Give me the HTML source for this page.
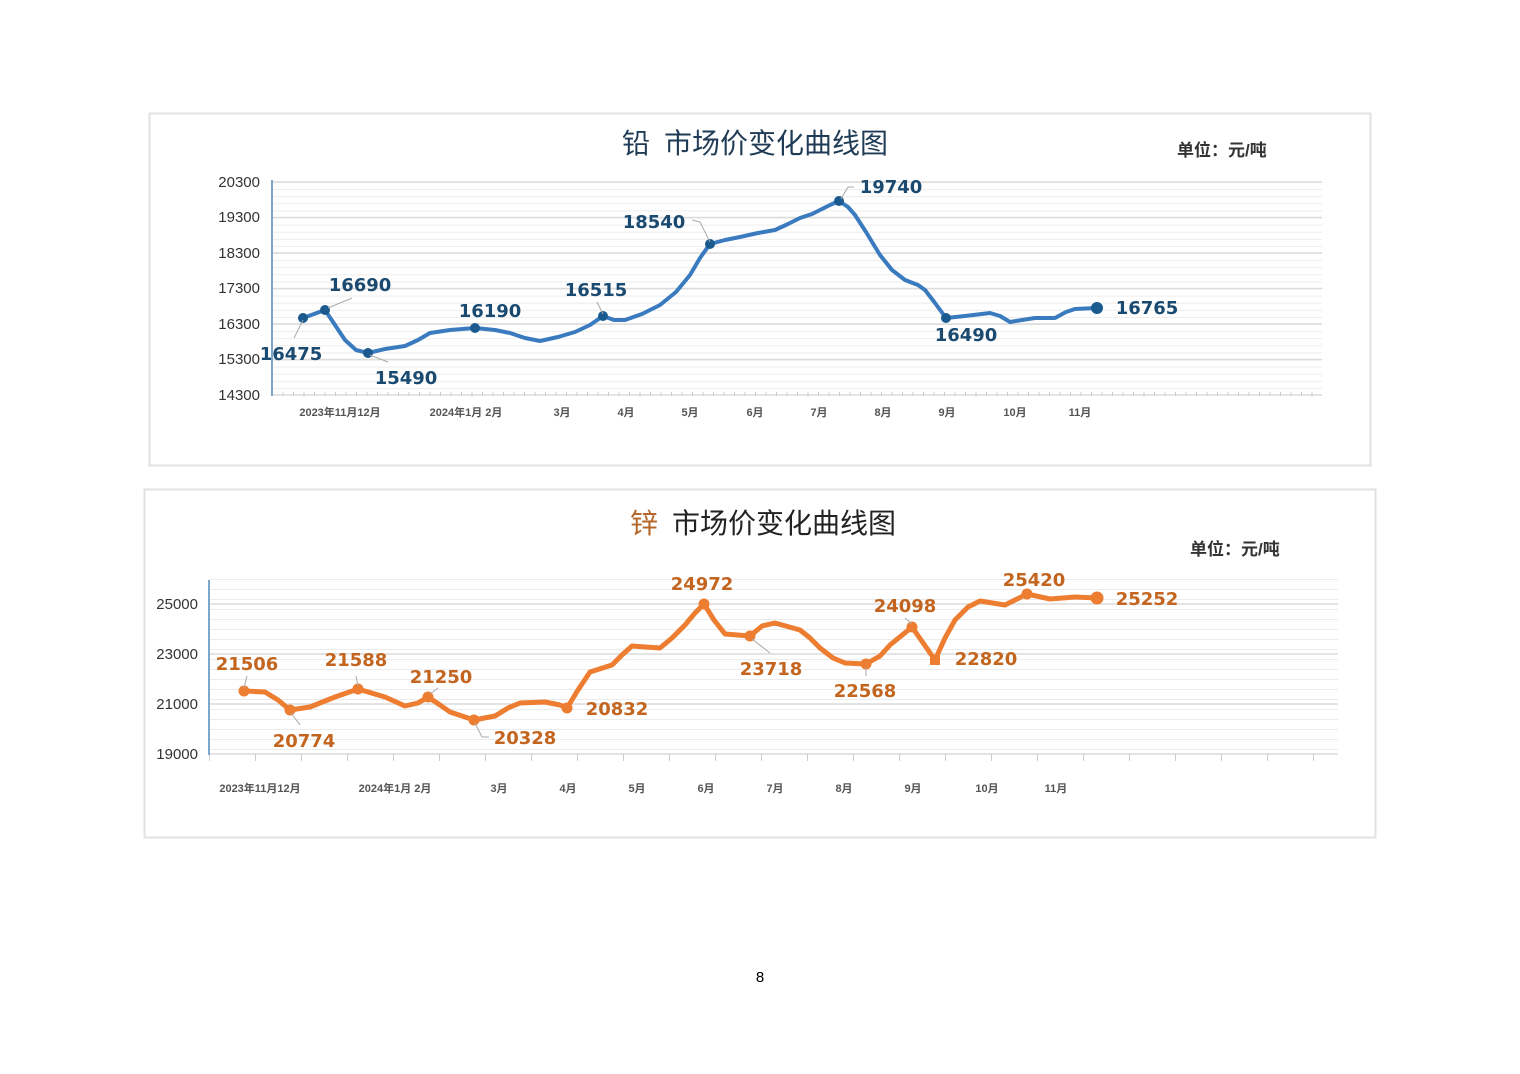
<!DOCTYPE html>
<html><head><meta charset="utf-8"><style>
html,body{margin:0;padding:0;background:#fff;}
svg{display:block;}
</style></head><body>
<svg width="1520" height="1074" viewBox="0 0 1520 1074" xmlns="http://www.w3.org/2000/svg" font-family="Liberation Sans, Noto Sans CJK SC, sans-serif">
<defs>
<pattern id="g1" x="0" y="182" width="10" height="7.1" patternUnits="userSpaceOnUse"><line x1="0" y1="0.5" x2="10" y2="0.5" stroke="#ececec" stroke-width="1"/></pattern>
<pattern id="g2" x="0" y="579" width="10" height="10" patternUnits="userSpaceOnUse"><line x1="0" y1="0.5" x2="10" y2="0.5" stroke="#ececec" stroke-width="1"/></pattern>
<pattern id="t1" x="272" y="0" width="10.5" height="10" patternUnits="userSpaceOnUse"><line x1="0.5" y1="0" x2="0.5" y2="10" stroke="#ccc" stroke-width="1"/></pattern>
<pattern id="t2" x="209" y="0" width="46" height="10" patternUnits="userSpaceOnUse"><line x1="0.5" y1="0" x2="0.5" y2="10" stroke="#ccc" stroke-width="1"/></pattern>
</defs>
<!-- Chart 1 -->
<rect x="149.5" y="113.5" width="1221" height="352" fill="#fff" stroke="#e2e2e2" stroke-width="2"/>
<text x="622" y="153" font-size="28" fill="#1f3b55">铅<tspan dx="14">市场价变化曲线图</tspan></text>
<text x="1177" y="156" font-size="17" fill="#333" font-weight="bold">单位：元/吨</text>
<rect x="272" y="182" width="1050" height="213" fill="url(#g1)"/>
<g stroke="#dcdcdc" stroke-width="1.5">
<line x1="272" y1="182" x2="1322" y2="182"/><line x1="272" y1="217.5" x2="1322" y2="217.5"/><line x1="272" y1="253" x2="1322" y2="253"/><line x1="272" y1="288.5" x2="1322" y2="288.5"/><line x1="272" y1="324" x2="1322" y2="324"/><line x1="272" y1="359.5" x2="1322" y2="359.5"/><line x1="272" y1="395" x2="1322" y2="395"/>
</g>
<rect x="272" y="392" width="1050" height="4" fill="url(#t1)"/>
<line x1="272" y1="180" x2="272" y2="396" stroke="#7ea6c8" stroke-width="2"/>
<g font-size="15" fill="#333" text-anchor="end">
<text x="260" y="187">20300</text><text x="260" y="222">19300</text><text x="260" y="258">18300</text><text x="260" y="293">17300</text><text x="260" y="329">16300</text><text x="260" y="364">15300</text><text x="260" y="400">14300</text>
</g>
<g font-size="11" font-weight="bold" fill="#555" text-anchor="middle">
<text x="340" y="416">2023年11月12月</text><text x="466" y="416">2024年1月  2月</text><text x="562" y="416">3月</text><text x="626" y="416">4月</text><text x="690" y="416">5月</text><text x="755" y="416">6月</text><text x="819" y="416">7月</text><text x="883" y="416">8月</text><text x="947" y="416">9月</text><text x="1015" y="416">10月</text><text x="1080" y="416">11月</text>
</g>
<polyline fill="none" stroke="#3a7bbf" stroke-width="4" stroke-linejoin="round" stroke-linecap="round" points="303,318 325,310 335,325 345,340 356,350 368,353 385,349 405,346 418,340 430,333 450,330 475,328 495,330 510,333 525,338 540,341 558,337 575,332 590,325 603,316 614,320 625,320 642,314 660,305 676,292 690,275 700,258 710,244 725,240 740,237 758,233 775,230 788,224 800,218 812,214 820,210 830,205 839,201 848,207 855,215 866,232 880,255 892,270 905,280 918,285 925,290 935,303 946,318 965,316 990,313 1000,316 1010,322 1022,320 1035,318 1055,318 1066,312 1075,309 1097,308"/>
<g fill="#1a5a8f"><circle cx="303" cy="318" r="5"/><circle cx="325" cy="310" r="5"/><circle cx="368" cy="353" r="5"/><circle cx="475" cy="328" r="5"/><circle cx="603" cy="316" r="5"/><circle cx="710" cy="244" r="5"/><circle cx="839" cy="201" r="5"/><circle cx="946" cy="318" r="5"/><circle cx="1097" cy="308" r="6"/></g>
<g stroke="#aaa" stroke-width="1" fill="none"><line x1="303" y1="320" x2="294" y2="338"/><line x1="328" y1="308" x2="352" y2="298"/><line x1="370" y1="355" x2="388" y2="362"/><line x1="603" y1="314" x2="597" y2="302"/><line x1="710" y1="242" x2="700" y2="222"/><line x1="692" y1="220" x2="700" y2="222"/><line x1="841" y1="199" x2="848" y2="187"/><line x1="848" y1="187" x2="854" y2="187"/></g>
<g font-family="DejaVu Sans, sans-serif" font-size="18" font-weight="bold" fill="#1b4a70" text-anchor="middle">
<text x="291" y="360">16475</text><text x="360" y="291">16690</text><text x="406" y="384">15490</text><text x="490" y="317">16190</text><text x="596" y="296">16515</text><text x="654" y="228">18540</text><text x="891" y="193">19740</text><text x="966" y="341">16490</text><text x="1147" y="314">16765</text>
</g>
<!-- Chart 2 -->
<rect x="144.5" y="489.5" width="1231" height="348" fill="#fff" stroke="#e2e2e2" stroke-width="2"/>
<text x="630" y="533" font-size="28" fill="#222"><tspan fill="#b5662a">锌</tspan><tspan dx="14">市场价变化曲线图</tspan></text>
<text x="1190" y="555" font-size="17" fill="#333" font-weight="bold">单位：元/吨</text>
<rect x="209" y="579" width="1129" height="175" fill="url(#g2)"/>
<g stroke="#dcdcdc" stroke-width="1.5">
<line x1="209" y1="604" x2="1338" y2="604"/><line x1="209" y1="654" x2="1338" y2="654"/><line x1="209" y1="704" x2="1338" y2="704"/><line x1="209" y1="754" x2="1338" y2="754"/>
</g>
<rect x="209" y="754" width="1129" height="7" fill="url(#t2)"/>
<line x1="209" y1="580" x2="209" y2="755" stroke="#7ea6c8" stroke-width="2"/>
<g font-size="15" fill="#333" text-anchor="end">
<text x="198" y="609">25000</text><text x="198" y="659">23000</text><text x="198" y="709">21000</text><text x="198" y="759">19000</text>
</g>
<g font-size="11" font-weight="bold" fill="#555" text-anchor="middle">
<text x="260" y="792">2023年11月12月</text><text x="395" y="792">2024年1月  2月</text><text x="499" y="792">3月</text><text x="568" y="792">4月</text><text x="637" y="792">5月</text><text x="706" y="792">6月</text><text x="775" y="792">7月</text><text x="844" y="792">8月</text><text x="913" y="792">9月</text><text x="987" y="792">10月</text><text x="1056" y="792">11月</text>
</g>
<polyline fill="none" stroke="#ed7d31" stroke-width="5" stroke-linejoin="round" stroke-linecap="round" points="244,691 265,692 278,700 290,710 310,707 335,697 358,689 385,697 405,706 418,703 428,697 440,705 450,712 474,720 495,716 508,708 520,703 545,702 560,705 567,708 578,690 590,672 612,665 622,655 632,646 660,648 672,638 685,625 695,613 704,604 714,620 725,634 750,636 762,626 775,623 800,630 810,638 820,648 833,658 845,663 866,664 880,656 890,645 912,627 935,660 945,638 955,620 968,607 980,601 1005,605 1015,600 1027,594 1050,599 1075,597 1097,598"/>
<g fill="#ed7d31"><circle cx="244" cy="691" r="5.5"/><circle cx="290" cy="710" r="5.5"/><circle cx="358" cy="689" r="5.5"/><circle cx="428" cy="697" r="5.5"/><circle cx="474" cy="720" r="5.5"/><circle cx="567" cy="708" r="5.5"/><circle cx="704" cy="604" r="5.5"/><circle cx="750" cy="636" r="5.5"/><circle cx="866" cy="664" r="5.5"/><circle cx="912" cy="627" r="5.5"/><rect x="930" y="655" width="10" height="10"/><circle cx="1027" cy="594" r="5.5"/><circle cx="1097" cy="598" r="6.5"/></g>
<g stroke="#aaa" stroke-width="1" fill="none"><line x1="244" y1="688" x2="247" y2="676"/><line x1="291" y1="713" x2="300" y2="725"/><line x1="358" y1="686" x2="356" y2="676"/><line x1="430" y1="694" x2="438" y2="688"/><line x1="475" y1="723" x2="482" y2="737"/><line x1="482" y1="737" x2="489" y2="737"/><line x1="752" y1="639" x2="770" y2="653"/><line x1="866" y1="667" x2="866" y2="676"/><line x1="912" y1="624" x2="905" y2="618"/></g>
<g font-family="DejaVu Sans, sans-serif" font-size="18" font-weight="bold" fill="#c3651f" text-anchor="middle">
<text x="247" y="670">21506</text><text x="304" y="747">20774</text><text x="356" y="666">21588</text><text x="441" y="683">21250</text><text x="525" y="744">20328</text><text x="617" y="715">20832</text><text x="702" y="590">24972</text><text x="771" y="675">23718</text><text x="865" y="697">22568</text><text x="905" y="612">24098</text><text x="986" y="665">22820</text><text x="1034" y="586">25420</text><text x="1147" y="605">25252</text>
</g>
<text x="760" y="982" text-anchor="middle" font-size="15" fill="#000">8</text>
</svg>
</body></html>
